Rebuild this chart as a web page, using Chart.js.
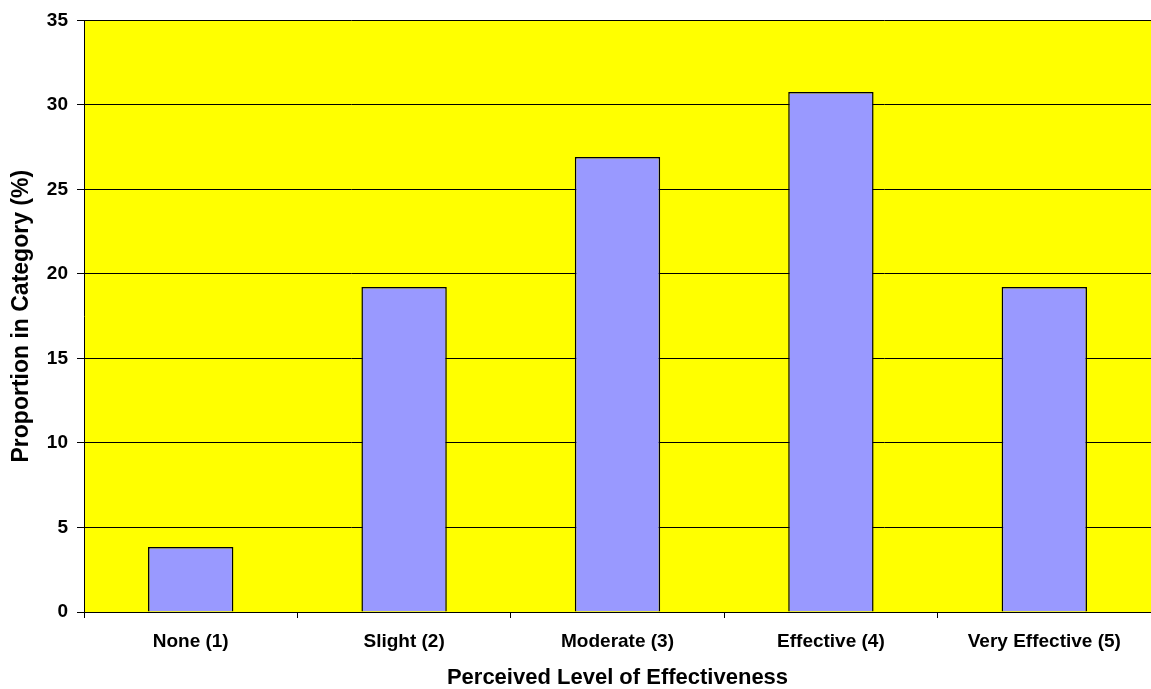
<!DOCTYPE html>
<html>
<head>
<meta charset="utf-8">
<script src="https://cdn.jsdelivr.net/npm/chart.js@4/dist/chart.umd.min.js"></script>
<style>
  html, body { margin: 0; padding: 0; background: #fff; }
  #wrap { width: 1151px; height: 689px; }
</style>
</head>
<body>
<div id="wrap"><canvas id="chart"></canvas></div>
<script>
const categories = ["None (1)", "Slight (2)", "Moderate (3)", "Effective (4)", "Very Effective (5)"];
const proportions = [3.85, 19.23, 26.92, 30.77, 19.23];
const yTicks = [0, 5, 10, 15, 20, 25, 30, 35];

// yellow plot area like the old spreadsheet chart
const plotBg = {
    id: "plotBg",
    beforeDraw(chart) {
        const { ctx, chartArea: a } = chart;
        ctx.save();
        ctx.fillStyle = "#FFFF00";
        ctx.fillRect(a.left, a.top, a.right - a.left, a.bottom - a.top);
        ctx.restore();
    }
};

Chart.defaults.font.family = "'Liberation Sans', Arial, sans-serif";
Chart.defaults.font.weight = "bold";
Chart.defaults.color = "#000";

new Chart(document.getElementById("chart"), {
    type: "bar",
    data: {
        labels: categories,
        datasets: [{
            data: proportions,
            backgroundColor: "#9999FF",
            borderColor: "#000",
            borderWidth: 1.5,
            categoryPercentage: 0.4,
            barPercentage: 1
        }]
    },
    options: {
        responsive: true,
        maintainAspectRatio: false,
        animation: false,
        layout: { padding: { top: 19, right: 0, bottom: 0, left: 0 } },
        plugins: {
            legend: { display: false },
            tooltip: { enabled: false }
        },
        scales: {
            x: {
                grid: {
                    offset: true,
                    drawOnChartArea: false,
                    color: "#000",
                    tickLength: 6
                },
                border: { color: "#000", width: 1 },
                ticks: { font: { size: 19 }, padding: 12 },
                title: {
                    display: true,
                    text: "Perceived Level of Effectiveness",
                    font: { size: 22, lineHeight: 1 },
                    padding: { top: 0, bottom: 0 }
                },
                afterFit(scale) { scale.height = 77; }
            },
            y: {
                min: 0,
                max: 35,
                afterBuildTicks(scale) { scale.ticks = yTicks.map(v => ({ value: v })); },
                grid: { color: "#000", tickLength: 7 },
                border: { color: "#000", width: 1 },
                ticks: { font: { size: 19 }, padding: 9 },
                title: {
                    display: true,
                    text: "Proportion in Category (%)",
                    font: { size: 23 },
                    padding: { top: 8, bottom: 0 }
                },
                afterFit(scale) { scale.width = 84; }
            }
        }
    },
    plugins: [plotBg]
});
</script>
</body>
</html>
